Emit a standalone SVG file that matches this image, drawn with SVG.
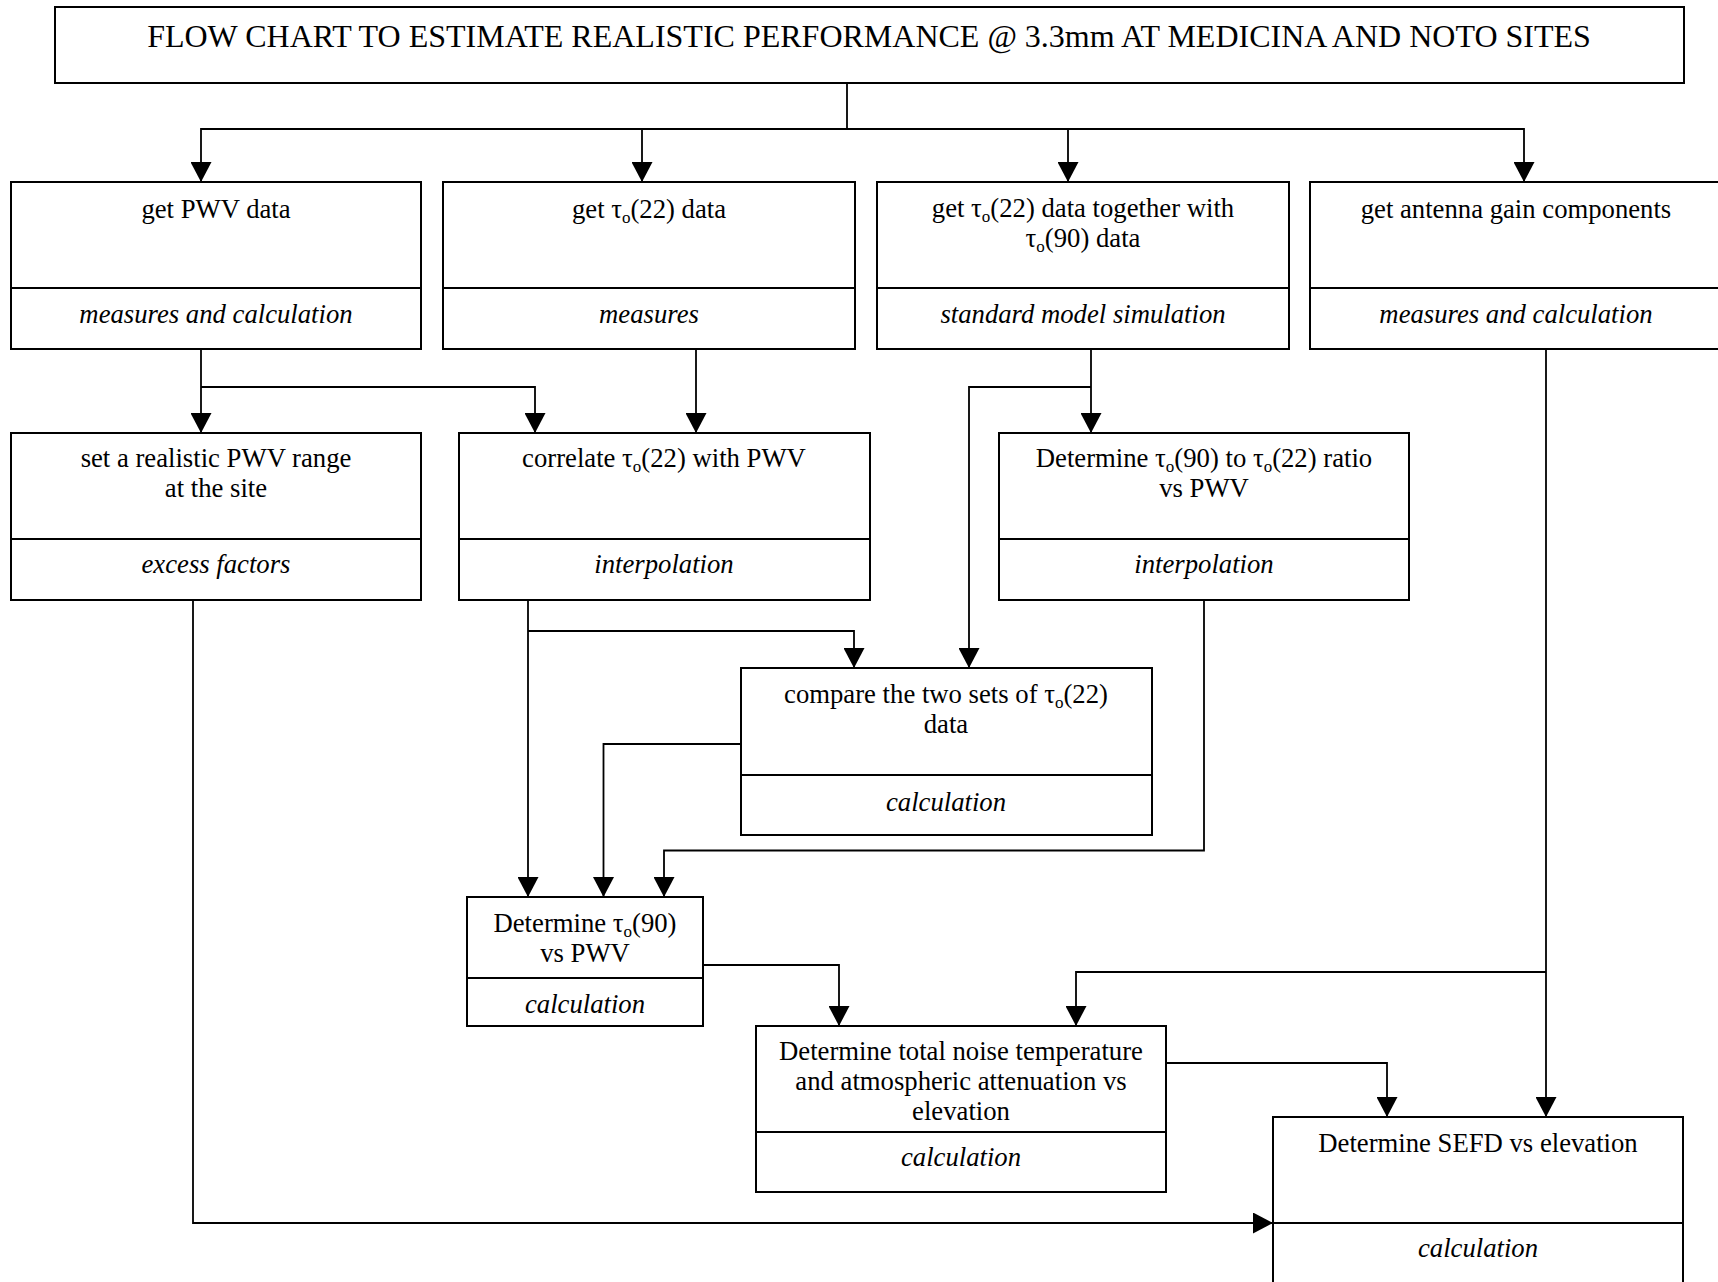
<svg xmlns="http://www.w3.org/2000/svg" width="1718" height="1282" viewBox="0 0 1718 1282">
<style>
.box{fill:#fff;stroke:#000;stroke-width:2}
.div{stroke:#000;stroke-width:2}
.t{font-family:"Liberation Serif","Times New Roman",serif;font-size:26.7px;fill:#000;text-anchor:middle}
.i{font-style:italic}
.title{font-size:32px}
.s{font-size:17px}
.c{fill:none;stroke:#000;stroke-width:1.8}
</style>
<defs>
<marker id="ah" markerUnits="userSpaceOnUse" markerWidth="20" markerHeight="21" refX="20" refY="10.5" orient="auto">
<path d="M0,0 L20,10.5 L0,21 Z" fill="#000"/>
</marker>
</defs>
<rect width="1718" height="1282" fill="#fff"/>
<g id="connectors">
<path class="c" d="M847,83 V129 H201 V182" marker-end="url(#ah)"/>
<path class="c" d="M847,129 H642 V182" marker-end="url(#ah)"/>
<path class="c" d="M847,129 H1068 V182" marker-end="url(#ah)"/>
<path class="c" d="M847,129 H1524 V182" marker-end="url(#ah)"/>
<path class="c" d="M201,349 V433" marker-end="url(#ah)"/>
<path class="c" d="M201,387 H535 V433" marker-end="url(#ah)"/>
<path class="c" d="M696,349 V433" marker-end="url(#ah)"/>
<path class="c" d="M1091,349 V433" marker-end="url(#ah)"/>
<path class="c" d="M1091,387 H969 V668" marker-end="url(#ah)"/>
<path class="c" d="M1546,349 V1117" marker-end="url(#ah)"/>
<path class="c" d="M1546,972 H1076 V1026" marker-end="url(#ah)"/>
<path class="c" d="M528,600 V897" marker-end="url(#ah)"/>
<path class="c" d="M528,631 H854 V668" marker-end="url(#ah)"/>
<path class="c" d="M741,744 H603.5 V897" marker-end="url(#ah)"/>
<path class="c" d="M1204,600 V850.5 H664 V897" marker-end="url(#ah)"/>
<path class="c" d="M702.5,965 H839 V1026" marker-end="url(#ah)"/>
<path class="c" d="M1166,1063 H1387 V1117" marker-end="url(#ah)"/>
<path class="c" d="M193,600 V1223 H1273" marker-end="url(#ah)"/>
</g>
<g id="title">
<rect class="box" x="55" y="7" width="1629" height="76"/>
<text class="t title" x="869" y="47">FLOW CHART TO ESTIMATE REALISTIC PERFORMANCE @ 3.3mm AT MEDICINA AND NOTO SITES</text>
</g>
<g id="pwv-data">
<rect class="box" x="11" y="182" width="410" height="167"/>
<line class="div" x1="11" y1="288" x2="421" y2="288"/>
<text class="t" x="216" y="218">get PWV data</text>
<text class="t i" x="216" y="323">measures and calculation</text>
</g>
<g id="tau22-data">
<rect class="box" x="443" y="182" width="412" height="167"/>
<line class="div" x1="443" y1="288" x2="855" y2="288"/>
<text class="t" x="649" y="218">get τ<tspan class="s" dy="5">o</tspan><tspan dy="-5">(22) data</tspan></text>
<text class="t i" x="649" y="323">measures</text>
</g>
<g id="tau22-tau90-data">
<rect class="box" x="877" y="182" width="412" height="167"/>
<line class="div" x1="877" y1="288" x2="1289" y2="288"/>
<text class="t" x="1083" y="217">get τ<tspan class="s" dy="5">o</tspan><tspan dy="-5">(22) data together with</tspan></text>
<text class="t" x="1083" y="247">τ<tspan class="s" dy="5">o</tspan><tspan dy="-5">(90) data</tspan></text>
<text class="t i" x="1083" y="323">standard model simulation</text>
</g>
<g id="antenna-gain">
<rect class="box" x="1310" y="182" width="412" height="167"/>
<line class="div" x1="1310" y1="288" x2="1722" y2="288"/>
<text class="t" x="1516" y="218">get antenna gain components</text>
<text class="t i" x="1516" y="323">measures and calculation</text>
</g>
<g id="pwv-range">
<rect class="box" x="11" y="433" width="410" height="167"/>
<line class="div" x1="11" y1="539" x2="421" y2="539"/>
<text class="t" x="216" y="467">set a realistic PWV range</text>
<text class="t" x="216" y="497">at the site</text>
<text class="t i" x="216" y="573">excess factors</text>
</g>
<g id="correlate">
<rect class="box" x="459" y="433" width="411" height="167"/>
<line class="div" x1="459" y1="539" x2="870" y2="539"/>
<text class="t" x="664" y="467">correlate τ<tspan class="s" dy="5">o</tspan><tspan dy="-5">(22) with PWV</tspan></text>
<text class="t i" x="664" y="573">interpolation</text>
</g>
<g id="ratio">
<rect class="box" x="999" y="433" width="410" height="167"/>
<line class="div" x1="999" y1="539" x2="1409" y2="539"/>
<text class="t" x="1204" y="467">Determine τ<tspan class="s" dy="5">o</tspan><tspan dy="-5">(90) to τ</tspan><tspan class="s" dy="5">o</tspan><tspan dy="-5">(22) ratio</tspan></text>
<text class="t" x="1204" y="497">vs PWV</text>
<text class="t i" x="1204" y="573">interpolation</text>
</g>
<g id="compare">
<rect class="box" x="741" y="668" width="411" height="167"/>
<line class="div" x1="741" y1="775" x2="1152" y2="775"/>
<text class="t" x="946" y="703">compare the two sets of τ<tspan class="s" dy="5">o</tspan><tspan dy="-5">(22)</tspan></text>
<text class="t" x="946" y="733">data</text>
<text class="t i" x="946" y="811">calculation</text>
</g>
<g id="tau90">
<rect class="box" x="467" y="897" width="236" height="129"/>
<line class="div" x1="467" y1="978" x2="703" y2="978"/>
<text class="t" x="585" y="932">Determine τ<tspan class="s" dy="5">o</tspan><tspan dy="-5">(90)</tspan></text>
<text class="t" x="585" y="962">vs PWV</text>
<text class="t i" x="585" y="1013">calculation</text>
</g>
<g id="noise">
<rect class="box" x="756" y="1026" width="410" height="166"/>
<line class="div" x1="756" y1="1132" x2="1166" y2="1132"/>
<text class="t" x="961" y="1060">Determine total noise temperature</text>
<text class="t" x="961" y="1090">and atmospheric attenuation vs</text>
<text class="t" x="961" y="1120">elevation</text>
<text class="t i" x="961" y="1166">calculation</text>
</g>
<g id="sefd">
<rect class="box" x="1273" y="1117" width="410" height="185"/>
<line class="div" x1="1273" y1="1223" x2="1683" y2="1223"/>
<text class="t" x="1478" y="1152">Determine SEFD vs elevation</text>
<text class="t i" x="1478" y="1257">calculation</text>
</g>
</svg>
